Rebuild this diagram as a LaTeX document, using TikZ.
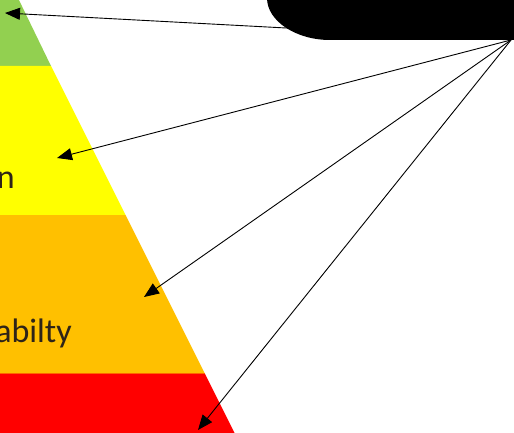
\documentclass[tikz,border=0pt]{standalone}
\usepackage{fontspec}
\setmainfont{Carlito}
\usetikzlibrary{arrows.meta}
\definecolor{pgreen}{HTML}{92D050}
\definecolor{pyellow}{HTML}{FFFF00}
\definecolor{porange}{HTML}{FFC000}
\definecolor{pred}{HTML}{FF0000}
\definecolor{ptext}{HTML}{2E2418}
\tikzset{
  pointer/.style={draw=black, line width=0.9pt, -{Triangle[length=15pt,width=12pt]}},
  lbl/.style={font=\fontsize{34}{34}\selectfont, text=ptext, inner sep=0pt}
}
\begin{document}
\begin{tikzpicture}[x=1pt,y=-1pt]
\useasboundingbox (0,0) rectangle (514,433);
\clip (0,0) rectangle (514,433);
% pyramid bands
\fill[pgreen] (-10,-2) -- (18,-2) -- (18+0.5*66,66) -- (-10,66) -- cycle;
\fill[pyellow] (-10,66) -- (18+0.5*66,66) -- (18+0.5*215,215) -- (-10,215) -- cycle;
\fill[porange] (-10,215) -- (18+0.5*215,215) -- (18+0.5*373,373) -- (-10,373) -- cycle;
\fill[pred] (-10,373) -- (18+0.5*373,373) -- (18+0.5*436,436) -- (-10,436) -- cycle;
\draw[line width=1pt, color=orange!80!red] (-10,373) -- (18+0.5*373,373);
% labels
\node[lbl, anchor=base east] (ln) at (15,188) {n};
\node[lbl, anchor=base east] (lab) at (72,342) {abilty};
\coordinate (src) at (511,40);
\coordinate (t1) at (5,13);
\coordinate (t2) at (57,158);
\coordinate (t3) at (144,297);
\coordinate (t4) at (198,430);
\draw[pointer] (src) -- (t2);
\draw[pointer] (src) -- (t3);
\draw[pointer] (src) -- (t4);
\draw[pointer] (src) -- (t1);
% black shape
\fill[black] (267,-2) .. controls (267,21) and (296,40) .. (330,40) -- (516,40) -- (516,-2) -- cycle;
\end{tikzpicture}
\end{document}
